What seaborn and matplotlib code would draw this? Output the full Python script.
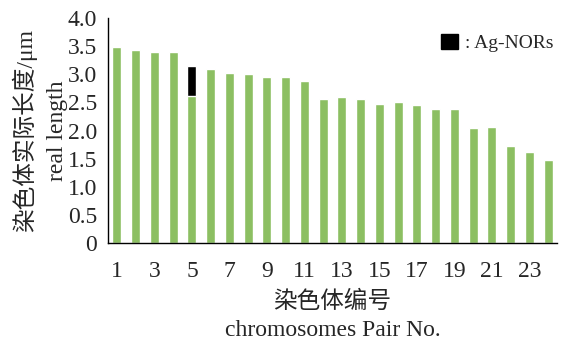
import matplotlib
matplotlib.use("Agg")
import matplotlib.pyplot as plt
import matplotlib.patches as mpatches
import seaborn as sns
import pandas as pd

# chromosome pair numbers and relative lengths
pairs = list(range(1, 25))
real_length = [3.49, 3.43, 3.39, 3.39, 2.61, 3.09, 3.02, 3.00, 2.95, 2.95, 2.88, 2.56,
               2.59, 2.56, 2.47, 2.50, 2.46, 2.38, 2.38, 2.05, 2.06, 1.72, 1.62, 1.47]
# Ag-NOR segment sits on top of pair 5
nor_pair = 5
nor_length = 0.53

y_ticks = [0, 0.5, 1.0, 1.5, 2.0, 2.5, 3.0, 3.5, 4.0]
y_labels = ['0', '0.5', '1.0', '1.5', '2.0', '2.5', '3.0', '3.5', '4.0']

sns.set_style('white')
plt.rcParams['font.family'] = ['Liberation Serif', 'Noto Sans CJK SC', 'DejaVu Sans']

df = pd.DataFrame({'pair': pairs, 'length': real_length})
df['nor_top'] = [l + nor_length if p == nor_pair else 0 for p, l in zip(pairs, real_length)]

fig = plt.figure(figsize=(5.61, 3.42), dpi=100)
ax = fig.add_axes([0.1925, 0.2895, 0.8005, 0.6575])

green = '#8cbf62'
sns.barplot(data=df, x='pair', y='nor_top', color='black', width=0.48, ax=ax, saturation=1)
sns.barplot(data=df, x='pair', y='length', color=green, width=0.48, ax=ax, saturation=1)

ax.set_xlim(-0.48, 23.48)
ax.set_ylim(0, 4.0)
ax.set_yticks(y_ticks)
ax.set_yticklabels(y_labels)
ax.set_xticks(range(len(pairs)))
ax.set_xticklabels([str(p) if p % 2 == 1 else '' for p in pairs])
ax.tick_params(axis='both', direction='in', length=3, width=1, labelsize=17)
ax.tick_params(axis='y', pad=8)
ax.tick_params(axis='x', pad=13)

for s in ['top', 'right']:
    ax.spines[s].set_visible(False)
for s in ['left', 'bottom']:
    ax.spines[s].set_color('black')
    ax.spines[s].set_linewidth(1.0)

ax.set_xlabel('染色体编号\nchromosomes Pair No.', fontsize=17, linespacing=1.45, labelpad=6)
ax.set_ylabel('染色体实际长度/μm\nreal length', fontsize=17, linespacing=1.6, labelpad=0)

handle = mpatches.Patch(color='black')
ax.legend([handle], [': Ag-NORs'], loc='upper right', frameon=False, fontsize=14,
          handlelength=0.9, handleheight=0.8, handletextpad=0.35,
          borderaxespad=0.0, bbox_to_anchor=(1.01, 0.965))

fig.savefig('out.png', dpi=100)
